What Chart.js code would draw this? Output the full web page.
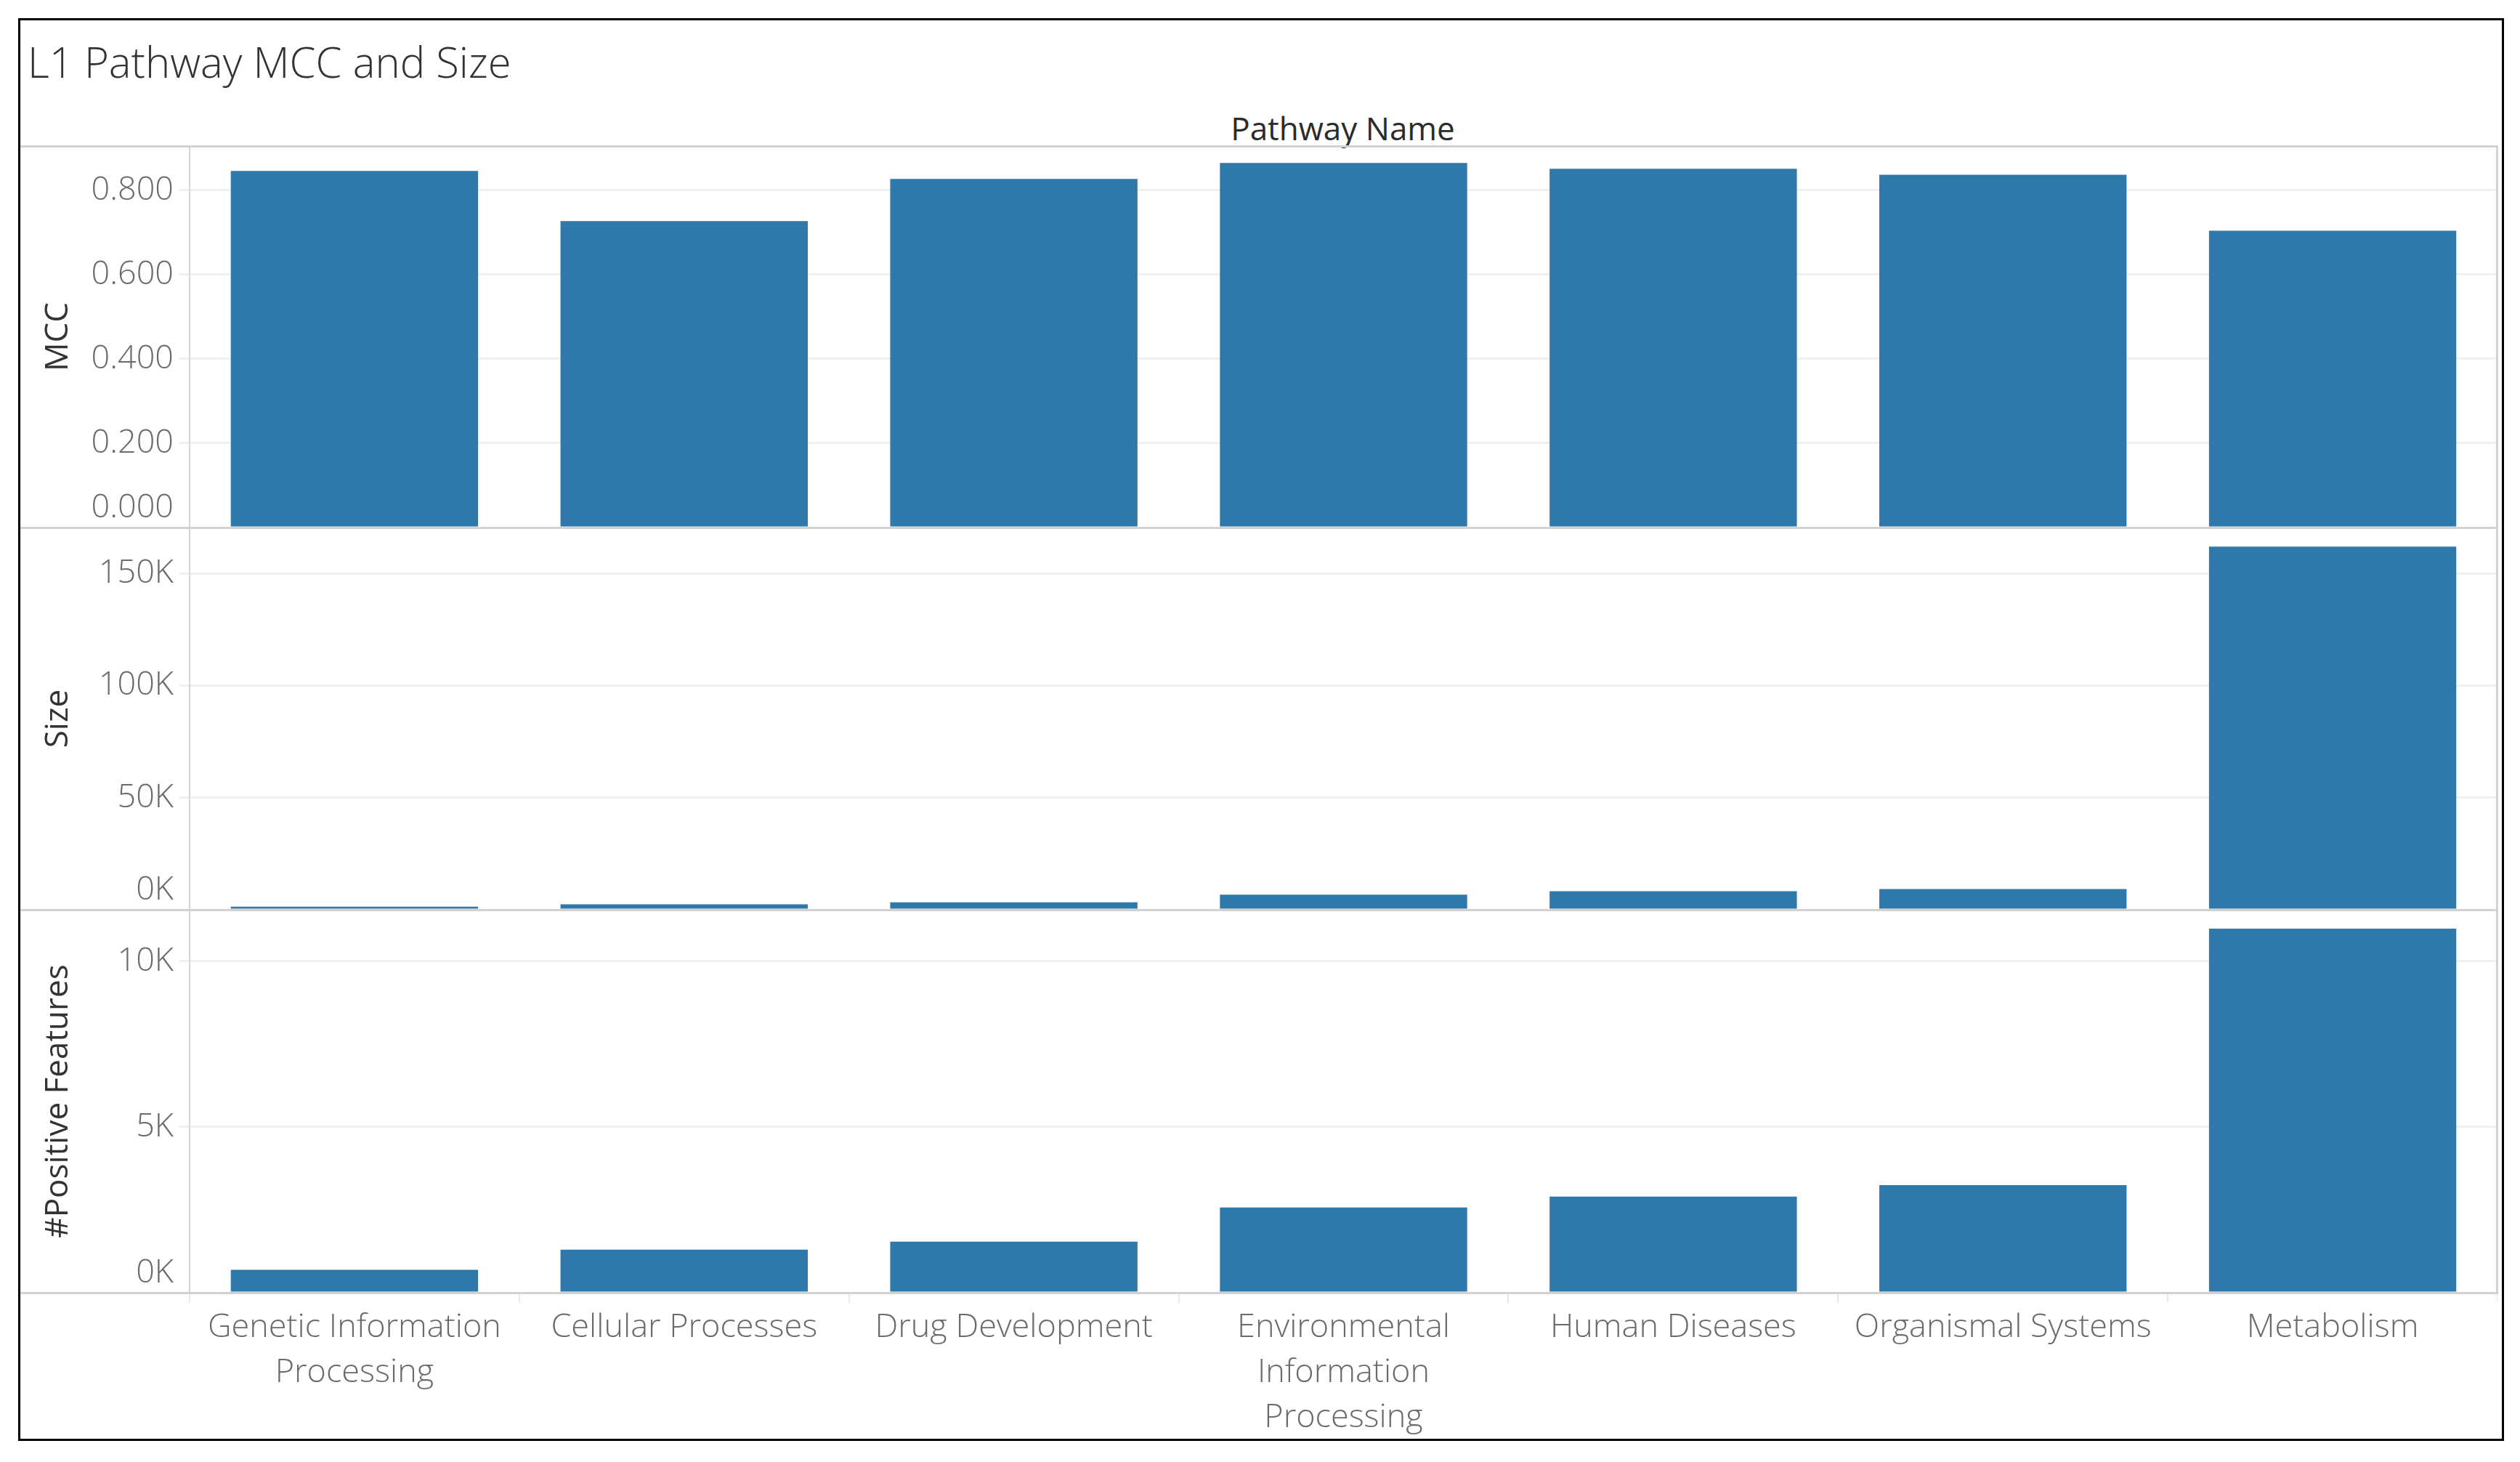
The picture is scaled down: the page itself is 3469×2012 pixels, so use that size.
<!DOCTYPE html>
<html>
<head>
<meta charset="utf-8">
<script src="https://cdn.jsdelivr.net/npm/chart.js@4.4.0/dist/chart.umd.min.js"></script>
<style>
  html, body { margin: 0; padding: 0; background: #fff; }
  body { width: 3469px; height: 2012px; position: relative; overflow: hidden; font-family: "Open Sans", sans-serif; }
  .frame { position: absolute; left: 25px; top: 25px; width: 3422px; height: 1958px; border: 3px solid #000; box-sizing: border-box; }
  .title { position: absolute; left: 38px; top: 56px; font-size: 58px; font-weight: 300; color: #333; line-height: 1; white-space: nowrap; }
  .header { position: absolute; left: 261px; width: 3175px; top: 154px; text-align: center; font-size: 44px; color: #2b2b2b; line-height: 1; }
  .hline { position: absolute; left: 28px; width: 3410px; height: 3px; background: #d2d2d2; z-index: 5; }
  .vline { position: absolute; left: 3436px; top: 201px; width: 3px; height: 1580px; background: #d2d2d2; z-index: 5; }
  .panel { position: absolute; left: 28px; width: 3410px; }
</style>
</head>
<body>
<div class="frame"></div>
<div class="title">L1 Pathway MCC and Size</div>
<div class="header">Pathway Name</div>

<div class="panel" style="top:201px;height:525px;"><canvas id="mcc-chart"></canvas></div>
<div class="panel" style="top:726px;height:526px;"><canvas id="size-chart"></canvas></div>
<div class="panel" style="top:1252px;height:728px;"><canvas id="pos-chart"></canvas></div>

<div class="hline" style="top:200px;"></div>
<div class="hline" style="top:725px;"></div>
<div class="hline" style="top:1251px;"></div>
<div class="hline" style="top:1778px;"></div>
<div class="vline"></div>

<script>
const categories = [
  ["Genetic Information", "Processing"],
  "Cellular Processes",
  "Drug Development",
  ["Environmental", "Information", "Processing"],
  "Human Diseases",
  "Organismal Systems",
  "Metabolism",
];
const mccValues = [0.846, 0.727, 0.827, 0.865, 0.851, 0.837, 0.704];
const sizeValues = [1400, 2400, 3300, 6700, 8300, 9200, 162000];
const positiveValues = [690, 1300, 1540, 2570, 2900, 3245, 10980];

const mccTicks = [0, 0.2, 0.4, 0.6, 0.8];
const sizeTicks = [0, 50000, 100000, 150000];
const positiveTicks = [0, 5000, 10000];

const barColor = "#2e79a9";
const axisWidth = 233;

function kLabel(value) {
  const text = `${Math.round(value / 1000)}K`;
  return value === 0 ? [text, ""] : text;
}

function mccLabel(value) {
  const text = value.toFixed(3);
  return value === 0 ? [text, ""] : text;
}

function makePanel(id, values, yTitle, yOpts, showX) {
  const canvas = document.getElementById(id);
  return new Chart(canvas, {
    type: "bar",
    data: {
      labels: categories,
      datasets: [{
        data: values,
        backgroundColor: barColor,
        borderWidth: 0,
        categoryPercentage: 0.75,
        barPercentage: 1,
      }],
    },
    options: {
      responsive: true,
      maintainAspectRatio: false,
      animation: false,
      layout: { padding: 0 },
      plugins: { legend: { display: false }, tooltip: { enabled: false } },
      scales: {
        x: {
          display: showX,
          offset: true,
          afterFit: (scale) => {
            if (showX) scale.height = 201;
            scale.paddingLeft = 0;
            scale.paddingRight = 0;
          },
          grid: { offset: true, drawOnChartArea: false, drawTicks: true, tickLength: 14, color: "#e8e8e8", lineWidth: 2 },
          border: { display: false },
          ticks: {
            color: "#6b6b6b",
            padding: 3,
            maxRotation: 0,
            autoSkip: false,
            font: { family: "Open Sans", size: 45, weight: 300, lineHeight: 1.38 },
          },
        },
        y: {
          min: 0,
          max: yOpts.max,
          afterBuildTicks: (scale) => {
            scale.ticks = yOpts.ticks.map((value) => ({ value }));
          },
          afterFit: (scale) => {
            scale.width = axisWidth;
            scale.paddingTop = 0;
            scale.paddingBottom = 0;
          },
          grid: {
            color: (ctx) => (ctx.tick && ctx.tick.value === 0 ? "rgba(0,0,0,0)" : "#efefef"),
            lineWidth: 3,
            drawTicks: true,
            tickLength: 14,
          },
          border: { display: true, color: "#d6d6d6", width: 2 },
          title: {
            display: true,
            text: yTitle,
            color: "#333",
            font: { family: "Open Sans", size: 44, weight: 400 },
            padding: { top: 26, bottom: 0 },
          },
          ticks: {
            autoSkip: false,
            color: "#6b6b6b",
            padding: 8,
            font: { family: "Open Sans", size: 45, weight: 300, lineHeight: 1.2 },
            callback: yOpts.format,
          },
        },
      },
    },
  });
}

makePanel("mcc-chart", mccValues, "MCC", { max: 0.905, ticks: mccTicks, format: mccLabel }, false);
makePanel("size-chart", sizeValues, "Size", { max: 170500, ticks: sizeTicks, format: kLabel }, false);
makePanel("pos-chart", positiveValues, "#Positive Features", { max: 11550, ticks: positiveTicks, format: kLabel }, true);
</script>
</body>
</html>
